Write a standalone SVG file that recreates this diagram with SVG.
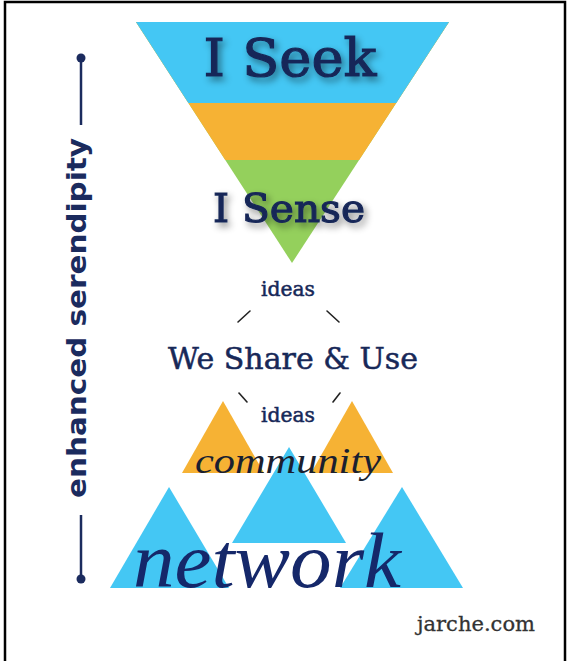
<svg xmlns="http://www.w3.org/2000/svg" width="582" height="661" viewBox="0 0 582 661">
  <defs>
    <style>
      .navy { fill: #172858; }
      .tw { font-family: "DejaVu Serif", "Liberation Serif", serif; }
      .heavy { stroke: #172858; stroke-width: 1.2; }
      .mid { stroke: #172858; stroke-width: 0.5; }
      .script { font-family: "Liberation Serif", "DejaVu Serif", serif; font-style: italic; }
      .blue { fill: #44c7f4; }
      .orange { fill: #f6b234; }
      .green { fill: #94d05c; }
      .dash { stroke: #222; stroke-width: 1.6; fill: none; stroke-linecap: round; }
    </style>
    <filter id="shadow" x="-20%" y="-40%" width="140%" height="180%">
      <feDropShadow dx="3" dy="4" stdDeviation="3.5" flood-color="#000" flood-opacity="0.45"/>
    </filter>
  </defs>
  <rect x="0" y="0" width="582" height="661" fill="#fff"/>
  <rect x="5" y="2" width="560" height="700" fill="none" stroke="#000" stroke-width="2.5"/>

  <g id="serendipity-axis">
    <line x1="81" y1="58" x2="81" y2="125" stroke="#1b2b5e" stroke-width="2.5"/>
    <circle cx="81" cy="58" r="4.5" fill="#1b2b5e"/>
    <line x1="81" y1="515" x2="81" y2="579" stroke="#1b2b5e" stroke-width="2.5"/>
    <circle cx="81" cy="579" r="4.5" fill="#1b2b5e"/>
    <text transform="translate(86,318) rotate(-90)" text-anchor="middle" fill="#1b2b5e" font-family="'DejaVu Sans', 'Open Sans', sans-serif" font-weight="bold" font-size="26" textLength="360" lengthAdjust="spacingAndGlyphs">enhanced serendipity</text>
  </g>

  <g id="funnel">
    <polygon class="green" points="136,22 449,22 292,263"/>
    <polygon class="orange" points="136,22 449,22 359.1,160 225.3,160"/>
    <polygon class="blue" points="136,22 449,22 396.2,103 188.4,103"/>
  </g>

  <g id="i-seek">
    <text x="290" y="76" text-anchor="middle" class="tw navy heavy" font-size="53" textLength="173" lengthAdjust="spacingAndGlyphs" filter="url(#shadow)">I Seek</text>
  </g>
  <g id="i-sense">
    <text x="289" y="222" text-anchor="middle" class="tw navy heavy" font-size="40" textLength="152" lengthAdjust="spacingAndGlyphs" filter="url(#shadow)">I Sense</text>
  </g>

  <g id="ideas-top">
    <text x="288" y="296" text-anchor="middle" class="tw navy mid" font-size="20" textLength="54" lengthAdjust="spacingAndGlyphs">ideas</text>
  </g>
  <g id="we-share">
    <text x="293" y="369" text-anchor="middle" class="tw navy mid" font-size="29" textLength="250" lengthAdjust="spacingAndGlyphs">We Share &amp; Use</text>
  </g>
  <g id="ideas-bottom">
    <text x="288" y="422" text-anchor="middle" class="tw navy mid" font-size="20" textLength="54" lengthAdjust="spacingAndGlyphs">ideas</text>
  </g>

  <g id="connectors">
    <line class="dash" x1="238" y1="322" x2="250" y2="311"/>
    <line class="dash" x1="327" y1="311" x2="339" y2="322"/>
    <line class="dash" x1="239" y1="393" x2="247" y2="402"/>
    <line class="dash" x1="333" y1="402" x2="340" y2="393"/>
  </g>

  <g id="community">
    <polygon class="orange" points="223,401 264,473 182,473"/>
    <polygon class="orange" points="352,401 393,473 311,473"/>
    <polygon class="blue" points="289,447 346,543 232,543"/>
    <text x="195" y="473" class="script" fill="#1a1f30" font-size="36" textLength="186" lengthAdjust="spacingAndGlyphs">community</text>
  </g>

  <g id="network">
    <polygon class="blue" points="169,487 229,588 110,588"/>
    <polygon class="blue" points="402,487 463,588 340,588"/>
    <text x="133" y="587" class="script" fill="#15286a" font-size="78" textLength="268" lengthAdjust="spacingAndGlyphs">network</text>
  </g>

  <g id="credit">
    <text x="417" y="631" class="tw" fill="#333" stroke="#333" stroke-width="0.3" font-size="21" textLength="118" lengthAdjust="spacingAndGlyphs">jarche.com</text>
  </g>
</svg>
